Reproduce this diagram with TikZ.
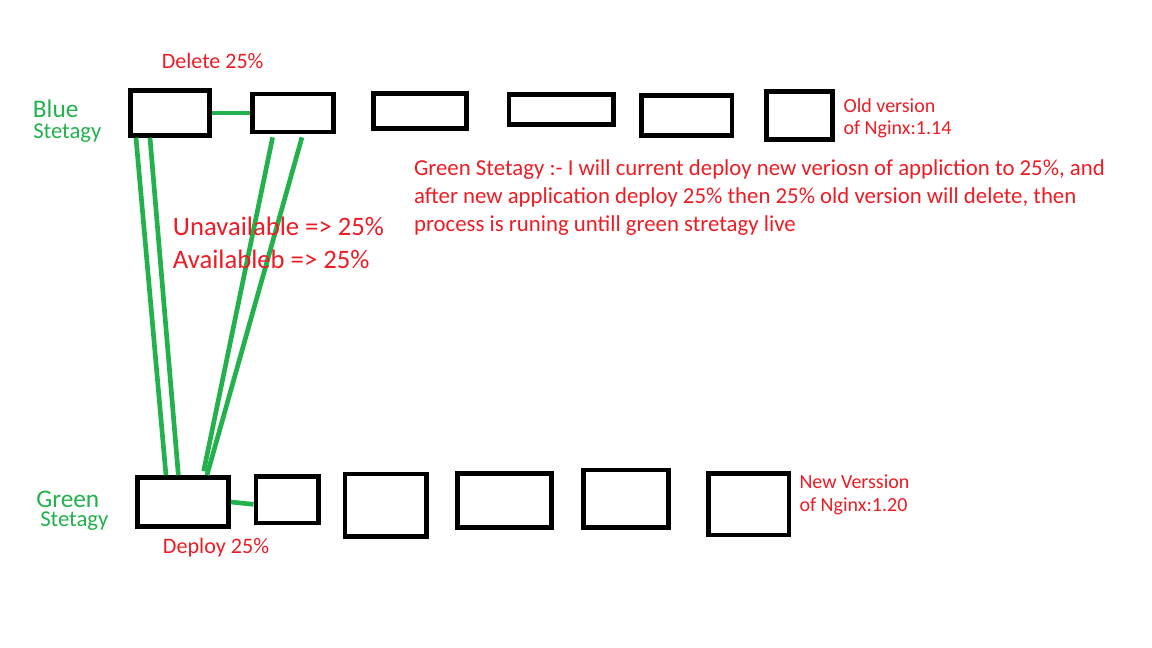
\documentclass[tikz,border=0pt]{standalone}
\usepackage{fontspec}
\setmainfont{Carlito}
\definecolor{podgreen}{RGB}{34,177,76}
\definecolor{notered}{RGB}{237,28,36}

\begin{document}
\begin{tikzpicture}[x=0.75pt, y=-0.75pt,
    pod/.style={draw=black, line width=3.5pt, inner sep=0pt},
    link/.style={draw=podgreen, line width=3.5pt},
    note/.style={text=notered, inner sep=0pt, anchor=base west, align=left},
    strat/.style={text=podgreen, inner sep=0pt, anchor=base west}]
    \useasboundingbox (0,0) rectangle (1152,648);

    % old version pods (blue)
    \node[pod, minimum width=58.95pt, minimum height=33.45pt] (b1) at (170,113) {};
    \node[pod, minimum width=60.75pt, minimum height=28.5pt] (b2) at (292.8,113) {};
    \node[pod, minimum width=69.75pt, minimum height=26.25pt] (b3) at (420,111) {};
    \node[pod, minimum width=78.4pt, minimum height=22.5pt] (b4) at (561.3,109.5) {};
    \node[pod, minimum width=67.9pt, minimum height=29.55pt] (b5) at (686.8,115.5) {};
    \node[pod, minimum width=49.5pt, minimum height=35.55pt] (b6) at (799.5,115.5) {};

    % new version pods (green)
    \node[pod, minimum width=68.25pt, minimum height=36.75pt] (g1) at (183,502) {};
    \node[pod, minimum width=47pt, minimum height=34.9pt] (g2) at (287.2,499.8) {};
    \node[pod, minimum width=61.1pt, minimum height=46.9pt] (g3) at (385.8,505.3) {};
    \node[pod, minimum width=70.5pt, minimum height=40.5pt] (g4) at (504.5,500.5) {};
    \node[pod, minimum width=63.75pt, minimum height=43.1pt] (g5) at (626,498.8) {};
    \node[pod, minimum width=60.4pt, minimum height=46.1pt] (g6) at (748.8,504.3) {};

    \draw[link] (b1.east) -- (b2.west);
    \draw[link] (g1.east) -- ([yshift=-3.4pt]g2.west);

    \draw[link] ([xshift=5.7pt]b1.south west) -- ([xshift=23.1pt]g1.north west);
    \draw[link] ([xshift=16.2pt]b1.south west) -- ([xshift=32.4pt]g1.north west);
    \draw[link] ([xshift=17pt, yshift=-2.25pt]b2.south west) -- ([xshift=51.4pt, yshift=3pt]g1.north west);
    \draw[link] ([xshift=39pt, yshift=-2.25pt]b2.south west) -- ([xshift=53.85pt]g1.north west);

    % labels (base = last line)
    \node[strat, font=\fontsize{19}{22}\selectfont] (bluename) at (32.7,117.3) {Blue};
    \node[strat, font=\fontsize{17}{20}\selectfont] (bluestrat) at (33,139) {Stetagy};
    \node[strat, font=\fontsize{19}{22}\selectfont] (greenname) at (36,507.7) {Green};
    \node[strat, font=\fontsize{17}{20}\selectfont] (greenstrat) at (40,526.7) {Stetagy};

    \node[note, font=\fontsize{16.5}{20}\selectfont] (delete) at (161.7,68.3) {Delete 25\%};
    \node[note, font=\fontsize{16.6}{20}\selectfont] (deploy) at (162.7,553.3) {Deploy 25\%};
    \node[note, font=\fontsize{15}{17}\selectfont] (oldver) at (843.3,135) {Old version\\of Nginx:1.14};
    \node[note, font=\fontsize{15}{17.5}\selectfont] (newver) at (799.3,511.7) {New Verssion\\of Nginx:1.20};
    \node[note, font=\fontsize{20}{24.75}\selectfont] (surge) at (172.7,268.3) {Unavailable =\textgreater{} 25\%\\Availableb =\textgreater{} 25\%};
    \node[note, font=\fontsize{17.1}{21}\selectfont] (plan) at (413.8,232) {Green Stetagy :- I will current deploy new veriosn of appliction to 25\%, and\\after new application deploy 25\% then 25\% old version will delete, then\\process is runing untill green stretagy live};
\end{tikzpicture}
\end{document}
